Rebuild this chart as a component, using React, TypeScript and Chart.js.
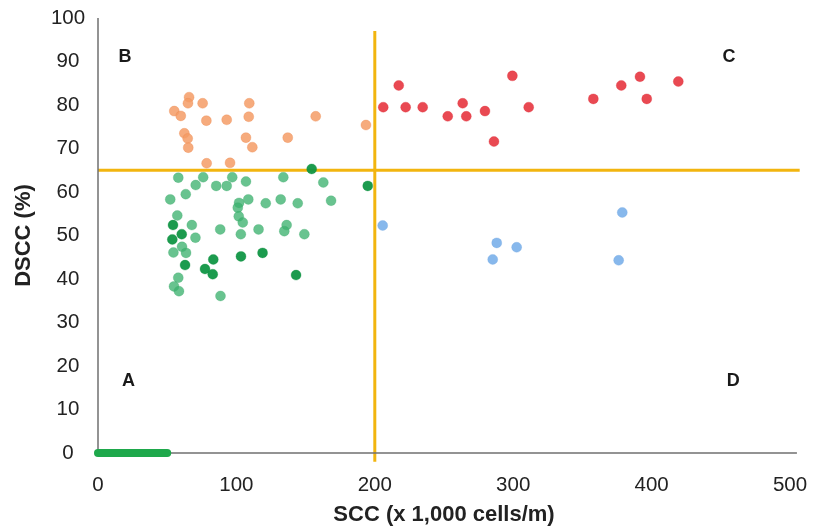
import React, { useEffect, useRef } from 'react';
import { Chart, registerables } from 'chart.js';

Chart.register(...registerables);

// ---- Data ----
const xTickValues = [0, 100, 200, 300, 400, 500];
const yTickValues = [0, 10, 20, 30, 40, 50, 60, 70, 80, 90, 100];

const sccThreshold = 200;
const dsccThreshold = 65;

// Quadrant B (orange)
const orangeX = [65.8, 65.0, 75.6, 55.1, 59.8, 78.3, 93.0, 109.3, 108.9, 62.4, 64.8, 65.2, 106.9, 111.5, 78.5, 95.4, 137.1, 157.3, 193.6];
const orangeY = [81.8, 80.4, 80.4, 78.6, 77.5, 76.4, 76.6, 80.4, 77.3, 73.5, 72.3, 70.2, 72.5, 70.3, 66.6, 66.7, 72.5, 77.4, 75.4];

// Quadrant C (red)
const redX = [217.3, 206.1, 222.3, 234.6, 252.7, 263.5, 266.1, 279.6, 286.1, 299.4, 311.2, 357.9, 378.1, 391.6, 396.5, 419.3];
const redY = [84.5, 79.5, 79.5, 79.5, 77.4, 80.4, 77.4, 78.6, 71.6, 86.7, 79.5, 81.4, 84.5, 86.5, 81.4, 85.4];

// Quadrant D (blue)
const blueX = [205.7, 288.1, 302.5, 285.2, 378.8, 376.2];
const blueY = [52.3, 48.3, 47.3, 44.5, 55.3, 44.3];

// Quadrant A (green, two shades)
const darkGreenX = [54.2, 60.5, 53.7, 62.9, 83.3, 77.3, 82.9, 103.3, 118.9, 143.1, 154.4, 194.9];
const darkGreenY = [52.4, 50.3, 49.1, 43.2, 44.5, 42.3, 41.1, 45.2, 46.0, 40.9, 65.3, 61.4];

const lightGreenX = [58.0, 76.0, 70.6, 85.4, 93.0, 97.0, 106.9, 63.4, 52.2, 101.9, 108.6, 101.0, 57.3, 101.7, 104.6, 67.8, 88.3, 103.2, 70.4, 54.5, 60.7, 63.6, 58.0, 54.9, 58.5, 88.5, 133.9, 162.8, 121.2, 132.0, 144.3, 168.4, 116.0, 136.3, 134.6, 149.1];
const lightGreenY = [63.3, 63.4, 61.6, 61.4, 61.4, 63.4, 62.4, 59.5, 58.3, 57.5, 58.3, 56.4, 54.6, 54.4, 53.0, 52.4, 51.4, 50.3, 49.5, 46.1, 47.4, 46.0, 40.3, 38.3, 37.2, 36.1, 63.4, 62.2, 57.4, 58.3, 57.4, 58.0, 51.4, 52.4, 51.0, 50.3];

// Green bar along the x axis (0 - 50)
const greenBarX = [0, 50];

// Reference lines extents
const hLineX = [0, 507];
const vLineY = [-2, 97];
const xAxisX = [0, 505];
const yAxisY = [0, 100];

// Quadrant labels
const quadrantLabels = ['A', 'B', 'C', 'D'];
const quadrantX = [22, 19.5, 456, 459];
const quadrantY = [16.5, 91, 91, 16.5];

const FONT = '"Liberation Sans", Arial, Helvetica, sans-serif';

const pts = (xs: number[], ys: number[]) => xs.map((x, i) => ({ x, y: ys[i] }));

const quadrantPlugin = {
  id: 'quadrantLabels',
  afterDatasetsDraw(chart: any) {
    const { ctx, scales } = chart;
    ctx.save();
    ctx.font = `bold 18px ${FONT}`;
    ctx.fillStyle = '#1a1a1a';
    ctx.textAlign = 'center';
    ctx.textBaseline = 'middle';
    quadrantLabels.forEach((t, i) => {
      ctx.fillText(t, scales.x.getPixelForValue(quadrantX[i]), scales.y.getPixelForValue(quadrantY[i]));
    });
    ctx.restore();
  },
};

export default function App() {
  const ref = useRef<HTMLCanvasElement>(null);

  useEffect(() => {
    if (!ref.current) return;
    const lineDs = (data: any[], color: string, width: number, cap: string = 'butt') => ({
      data,
      showLine: true,
      pointRadius: 0,
      pointHoverRadius: 0,
      borderColor: color,
      borderWidth: width,
      borderCapStyle: cap,
      fill: false,
      clip: false,
      order: 10,
    });
    const pointDs = (data: any[], color: string, border: string) => ({
      data,
      showLine: false,
      pointRadius: 5,
      pointHoverRadius: 5,
      backgroundColor: color,
      borderColor: border,
      borderWidth: 0.5,
      clip: false,
      order: 1,
    });

    const chart = new Chart(ref.current, {
      type: 'scatter',
      data: {
        datasets: [
          lineDs(xAxisX.map((x) => ({ x, y: 0 })), '#6f6f6f', 1.5),
          lineDs(yAxisY.map((y) => ({ x: 0, y })), '#6f6f6f', 1.5),
          lineDs(hLineX.map((x) => ({ x, y: dsccThreshold })), '#F2B50F', 3),
          lineDs(vLineY.map((y) => ({ x: sccThreshold, y })), '#F2B50F', 3),
          { ...lineDs(greenBarX.map((x) => ({ x, y: 0 })), '#1EA84B', 8, 'round'), order: 5 },
          pointDs(pts(orangeX, orangeY), 'rgba(244,156,102,0.85)', 'rgba(236,130,70,0.6)'),
          pointDs(pts(redX, redY), 'rgba(230,48,58,0.88)', 'rgba(220,40,50,0.6)'),
          pointDs(pts(blueX, blueY), 'rgba(122,176,234,0.9)', 'rgba(110,165,225,0.6)'),
          pointDs(pts(lightGreenX, lightGreenY), 'rgba(62,178,112,0.78)', 'rgba(50,165,100,0.5)'),
          pointDs(pts(darkGreenX, darkGreenY), 'rgba(16,150,68,0.95)', 'rgba(10,140,60,0.6)'),
        ] as any,
      },
      plugins: [quadrantPlugin],
      options: {
        responsive: false,
        animation: false,
        devicePixelRatio: 1,
        events: [],
        layout: { padding: { top: 18, right: 33, left: 0, bottom: 0 } },
        plugins: {
          legend: { display: false },
          tooltip: { enabled: false },
        },
        scales: {
          x: {
            type: 'linear',
            min: 0,
            max: 500,
            grid: { display: false, drawTicks: false },
            border: { display: false },
            afterBuildTicks: (scale: any) => {
              scale.ticks = xTickValues.map((v) => ({ value: v }));
            },
            afterFit: (scale: any) => {
              scale.paddingLeft = 0;
              scale.paddingRight = 0;
            },
            ticks: {
              padding: 19.7,
              color: '#222',
              font: { family: FONT, size: 20.5 },
            },
            title: {
              display: true,
              text: 'SCC (x 1,000 cells/m)',
              color: '#222',
              font: { family: FONT, size: 22, weight: 'bold' },
              padding: { top: -15.2, bottom: 0.8 },
            },
          },
          y: {
            type: 'linear',
            min: 0,
            max: 100,
            grid: { display: false, drawTicks: false },
            border: { display: false },
            afterBuildTicks: (scale: any) => {
              scale.ticks = yTickValues.map((v) => ({ value: v }));
            },
            afterFit: (scale: any) => {
              scale.paddingTop = 0;
              scale.paddingBottom = 0;
            },
            ticks: {
              padding: 12.9,
              crossAlign: 'center',
              color: '#222',
              font: { family: FONT, size: 20.5 },
            },
            title: {
              display: true,
              text: 'DSCC (%)',
              color: '#222',
              font: { family: FONT, size: 22, weight: 'bold' },
              padding: { top: 10.8, bottom: 0.8 },
            },
          },
        },
      } as any,
    });
    return () => chart.destroy();
  }, []);

  return (
    <div style={{ position: 'absolute', left: 0, top: 0, width: 823, height: 529, background: '#fff' }}>
      <canvas ref={ref} width={823} height={529} style={{ display: 'block' }} />
    </div>
  );
}
